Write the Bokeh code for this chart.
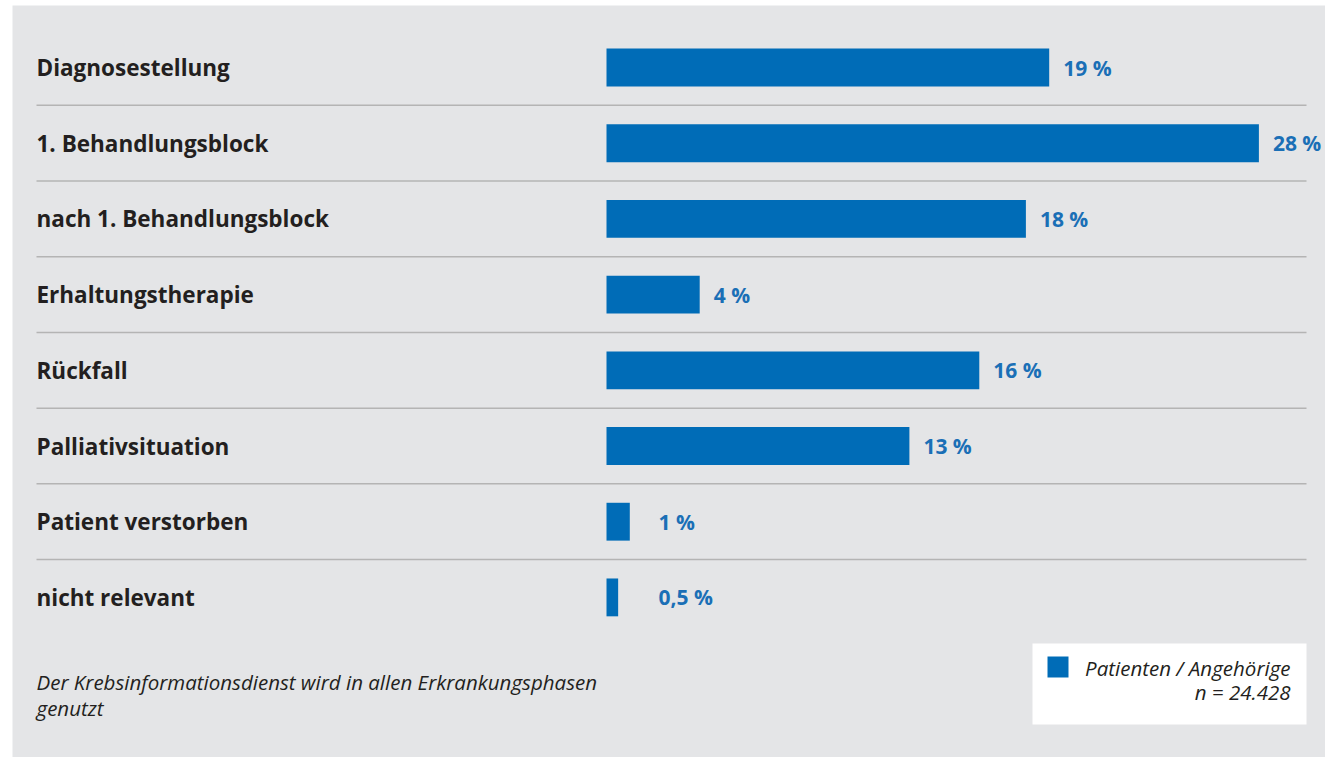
from bokeh.plotting import figure
from bokeh.models import Range1d
from bokeh.core.properties import value
from bokeh.embed import file_html
from bokeh.resources import INLINE

# ---- data ----
categories = ["Diagnosestellung", "1. Behandlungsblock", "nach 1. Behandlungsblock",
              "Erhaltungstherapie", "Rückfall", "Palliativsituation",
              "Patient verstorben", "nicht relevant"]
values = [19, 28, 18, 4, 16, 13, 1, 0.5]
value_labels = ["19 %", "28 %", "18 %", "4 %", "16 %", "13 %", "1 %", "0,5 %"]
legend_label = "Patienten / Angehörige"
n_label = "n = 24.428"
footnote = ["Der Krebsinformationsdienst wird in allen Erkrankungsphasen", "genutzt"]

# ---- layout (pixel geometry) ----
W, H = 1325, 757
LEFT, TOP = 12, 5
X0PX, PXPCT = 606, 23.3
Y0PX, PITCH = 67, 75.7

def xd(px):
    return (px - X0PX) / PXPCT

def yd(px):
    return (px - Y0PX) / PITCH

BLUE = "#006cb7"
TXTBLUE = "#1a6fb6"
DARK = "#231f20"
BG = "#e4e5e7"
FONT = "Open Sans"

p = figure(width=W, height=H, output_backend="svg", toolbar_location=None,
           x_range=Range1d(xd(LEFT), xd(W)), y_range=Range1d(yd(H), yd(TOP)),
           min_border_left=LEFT, min_border_top=TOP, min_border_right=0, min_border_bottom=0)
p.axis.visible = False
p.grid.visible = False
p.outline_line_color = None
p.background_fill_color = BG
p.border_fill_color = "white"

ys = list(range(len(categories)))

# separator lines
sep_y = [i + 0.5 for i in ys[:-1]]
p.segment(x0=[xd(36)] * len(sep_y), x1=[xd(1306)] * len(sep_y), y0=sep_y, y1=sep_y,
          line_color="#b4b4b4", line_width=1.5)

# bars
p.hbar(y=ys, left=0, right=values, height=0.5, fill_color=BLUE, line_color=None)

# category labels
p.text(x=[xd(36)] * len(ys), y=ys, text=categories, text_font=value(FONT),
       text_font_style="bold", text_font_size="22.5px", text_color=DARK,
       text_baseline="middle", text_align="left")

# value labels
min_x = xd(658)
vx = [max(v + 14 / PXPCT, min_x) for v in values]
p.text(x=vx, y=ys, text=value_labels, text_font=value(FONT),
       text_font_style="bold", text_font_size="21px", text_color=TXTBLUE,
       text_baseline="middle", text_align="left")

# footnote
p.text(x=[xd(36)] * 2, y=[yd(681), yd(707)], text=footnote, text_font=value(FONT),
       text_font_style="italic", text_font_size="20.5px", text_color=DARK,
       text_baseline="middle", text_align="left")

# legend box
p.quad(left=[xd(1032)], right=[xd(1306)], top=[yd(643)], bottom=[yd(724)],
       fill_color="white", line_color=None)
p.quad(left=[xd(1047)], right=[xd(1068)], top=[yd(656)], bottom=[yd(677)],
       fill_color=BLUE, line_color=None)
p.text(x=[xd(1290)] * 2, y=[yd(667), yd(691)], text=[legend_label, n_label],
       text_font=value(FONT), text_font_style="italic", text_font_size="20.5px",
       text_color=DARK, text_baseline="middle", text_align="right")

open("out.html", "w").write(file_html(p, INLINE))
